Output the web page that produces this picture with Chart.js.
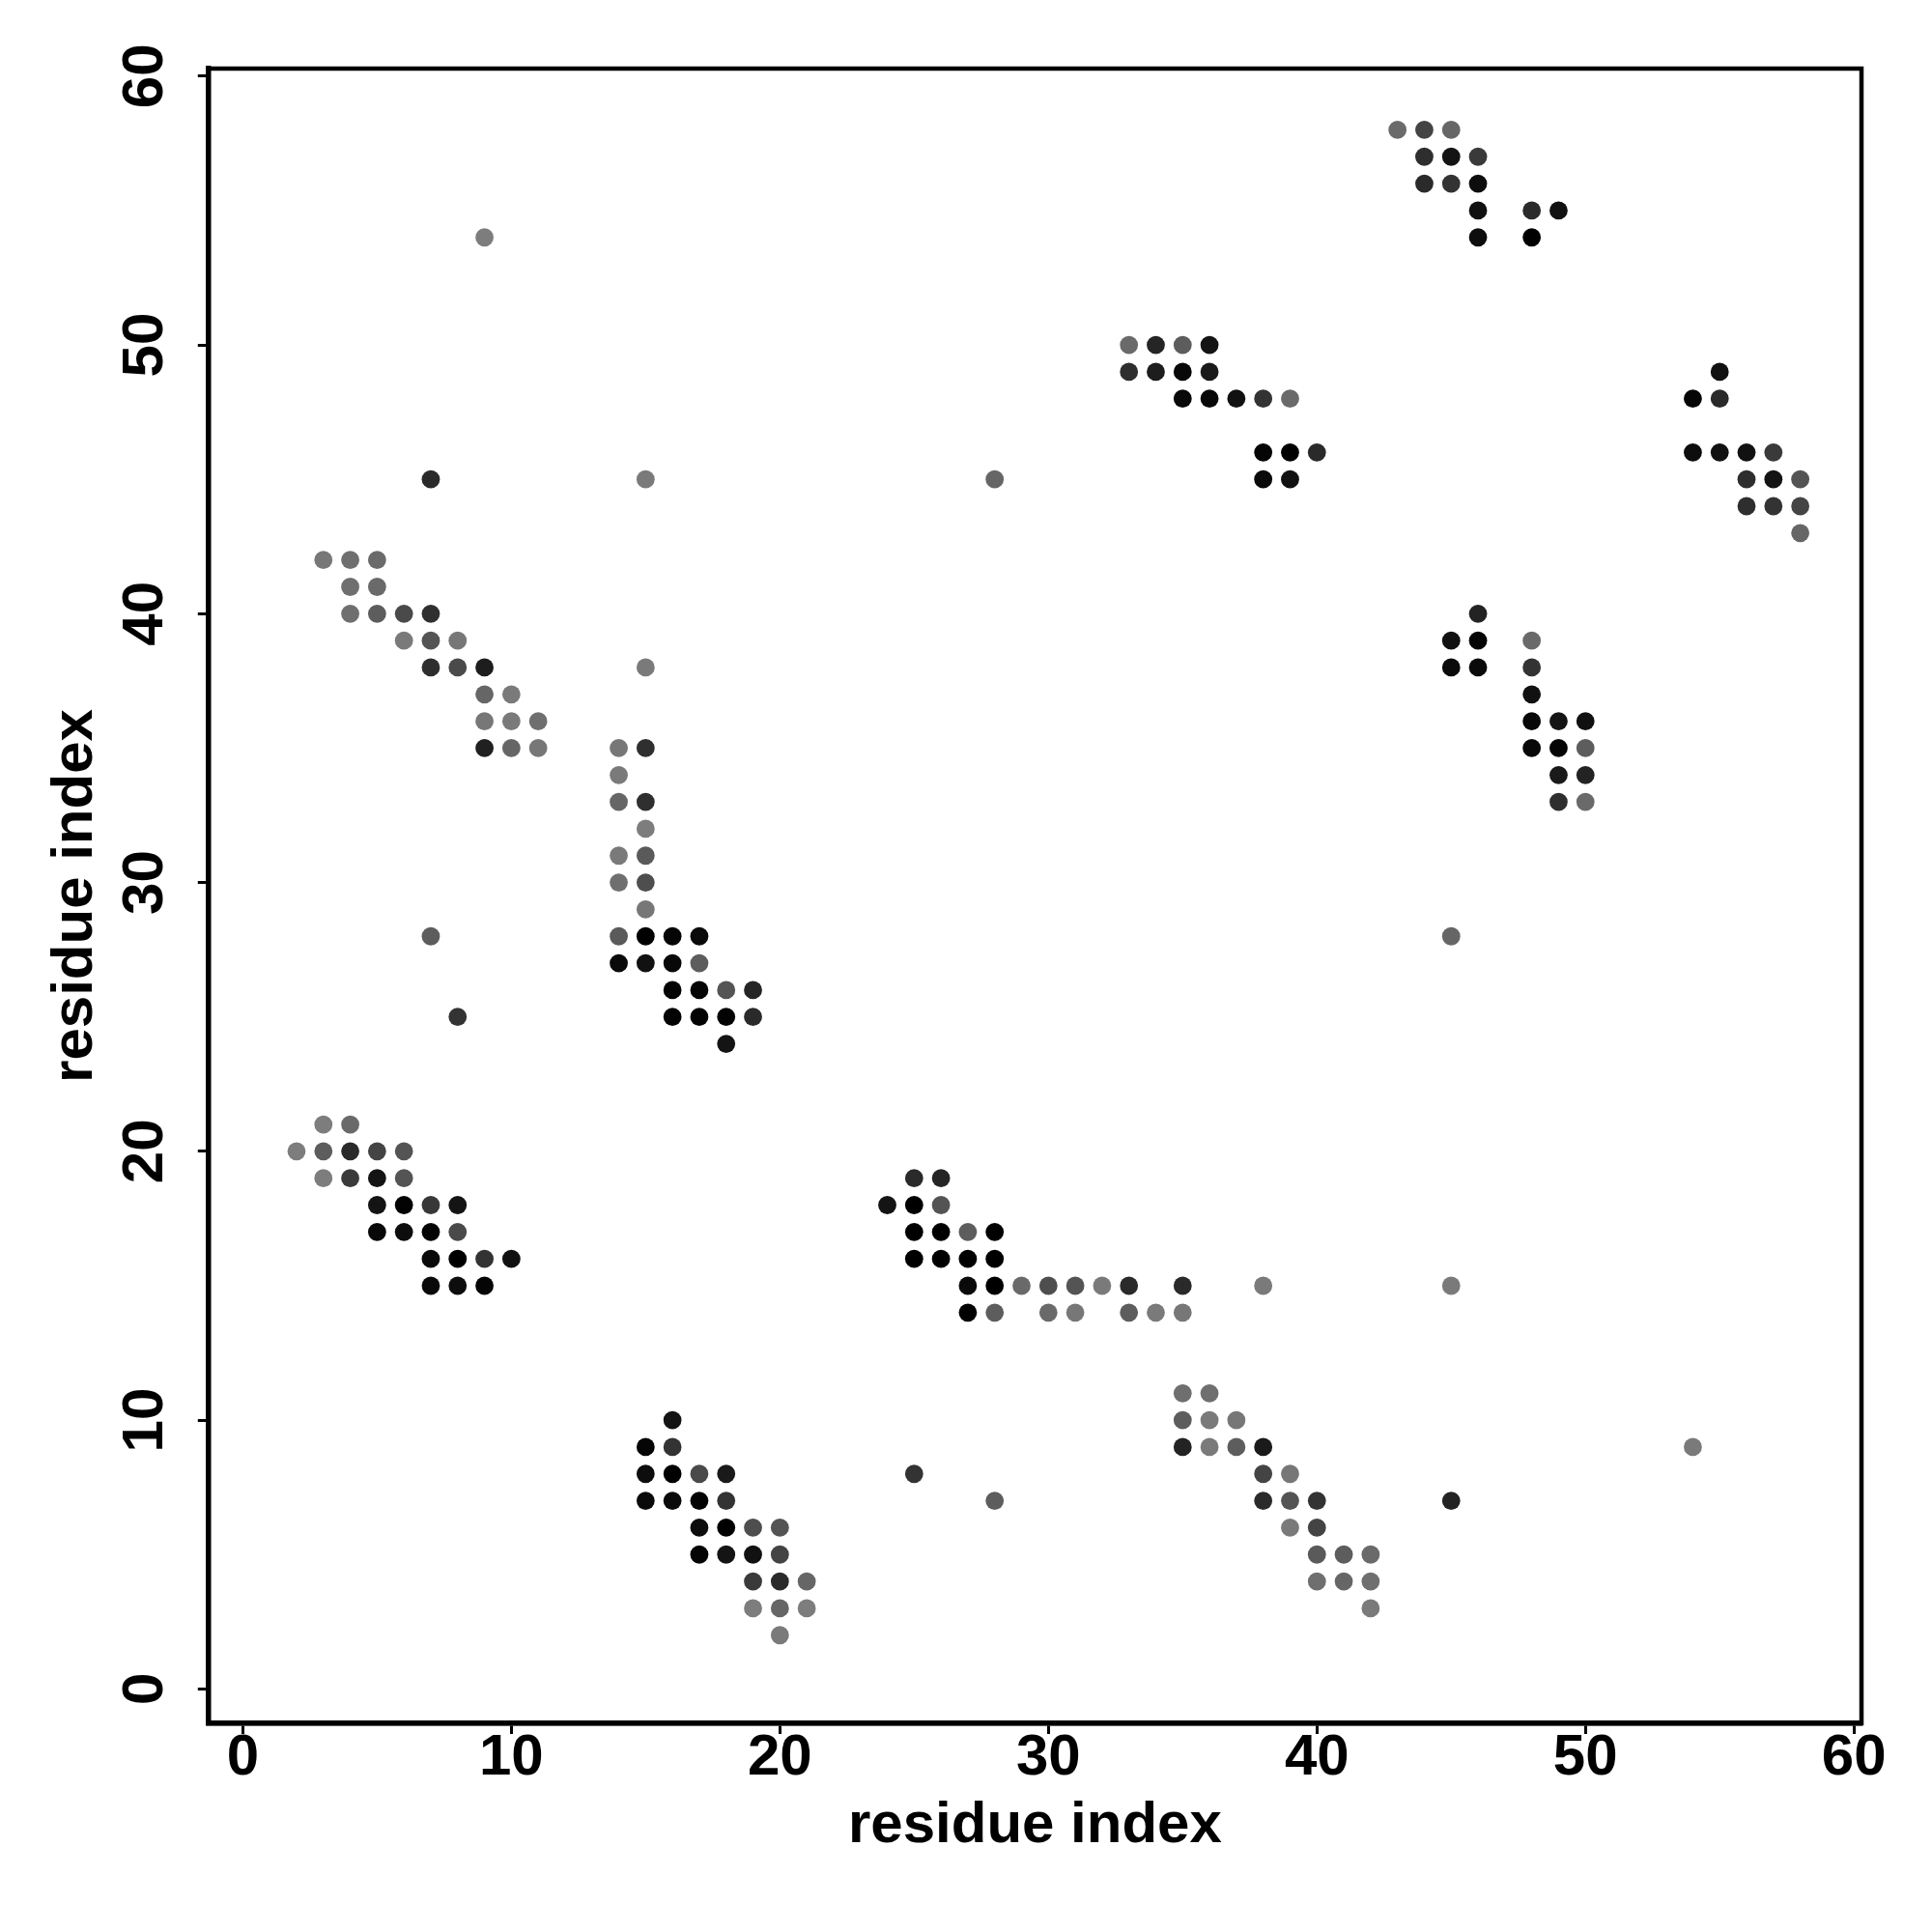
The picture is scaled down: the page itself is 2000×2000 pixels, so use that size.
<!DOCTYPE html>
<html>
<head>
<meta charset="utf-8">
<script src="https://cdn.jsdelivr.net/npm/chart.js@4/dist/chart.umd.min.js"></script>
<style>
  html, body { margin: 0; padding: 0; background: #fff; }
  #wrap { width: 2000px; height: 2000px; }
</style>
</head>
<body>
<div id="wrap"><canvas id="contactMap" width="2000" height="2000"></canvas></div>
<script>
// contact map rows: residue index (y) -> contacting residues (x) and contact probability
const rowY = [58, 57, 56, 55, 54, 50, 49, 48, 46, 45, 44, 43, 42, 41, 40, 39, 38, 37, 36, 35,
              34, 33, 32, 31, 30, 29, 28, 27, 26, 25, 24, 21, 20, 19, 18, 17, 16, 15, 14, 11,
              10, 9, 8, 7, 6, 5, 4, 3, 2];
const rowX = [
  [43, 44, 45], [44, 45, 46], [44, 45, 46], [46, 48, 49], [9, 46, 48],
  [33, 34, 35, 36], [33, 34, 35, 36, 55], [35, 36, 37, 38, 39, 54, 55],
  [38, 39, 40, 54, 55, 56, 57], [7, 15, 28, 38, 39, 56, 57, 58], [56, 57, 58], [58],
  [3, 4, 5], [4, 5], [4, 5, 6, 7, 46], [6, 7, 8, 45, 46, 48], [7, 8, 9, 15, 45, 46, 48],
  [9, 10, 48], [9, 10, 11, 48, 49, 50], [9, 10, 11, 14, 15, 48, 49, 50], [14, 49, 50],
  [14, 15, 49, 50], [15], [14, 15], [14, 15], [15], [7, 14, 15, 16, 17, 45],
  [14, 15, 16, 17], [16, 17, 18, 19], [8, 16, 17, 18, 19], [18], [3, 4], [2, 3, 4, 5, 6],
  [3, 4, 5, 6, 25, 26], [5, 6, 7, 8, 24, 25, 26], [5, 6, 7, 8, 25, 26, 27, 28],
  [7, 8, 9, 10, 25, 26, 27, 28], [7, 8, 9, 27, 28, 29, 30, 31, 32, 33, 35, 38, 45],
  [27, 28, 30, 31, 33, 34, 35], [35, 36], [16, 35, 36, 37], [15, 16, 35, 36, 37, 38, 54],
  [15, 16, 17, 18, 25, 38, 39], [15, 16, 17, 18, 28, 38, 39, 40, 45], [17, 18, 19, 20, 39, 40],
  [17, 18, 19, 20, 40, 41, 42], [19, 20, 21, 40, 41, 42], [19, 20, 21, 42], [20]
];
const rowProb = [
  [.17, .47, .20], [.64, .84, .55], [.67, .60, .90], [.87, .67, .87], [.02, .90, 1],
  [.17, .71, .27, .84], [.64, .77, .94, .80, .87], [.94, .94, .87, .60, .17, .96, .67],
  [.96, 1, .67, .90, .87, .87, .55], [.67, .05, .20, .92, .87, .64, .84, .34], [.64, .60, .47], [.20],
  [.07, .13, .17], [.13, .17], [.13, .27, .42, .63, .73], [.05, .34, .07, .87, .96, .17],
  [.64, .42, .77, .05, .92, .92, .60],
  [.20, .05, .87], [.07, .05, .13, .94, .84, .87], [.75, .20, .07, .07, .63, .94, .96, .27], [.05, .80, .73],
  [.20, .63, .64, .17], [.02], [.05, .30], [.13, .39], [.07], [.27, .30, 1, .96, .92, .20],
  [.92, .87, .94, .27], [.98, .96, .34, .71], [.60, .98, .98, .98, .67], [.84], [.02, .17], [.02, .27, .67, .47, .34],
  [.02, .55, .84, .34, .67, .71], [.84, .98, .56, .84, .84, 1, .34], [.94, .90, .98, .42, 1, 1, .27, 1],
  [.92, 1, .60, .87, 1, 1, 1, 1], [.92, .90, .96, .92, 1, .17, .39, .34, .05, .67, .67, .05, .05],
  [1, .27, .17, .07, .27, .05, .07], [.13, .13], [.84, .27, .05, .07], [.96, .60, .73, .05, .27, .80, .05],
  [.90, 1, .42, .80, .60, .47, .07], [.92, .92, .98, .60, .27, .67, .34, .60, .73], [.90, 1, .39, .34, .05, .47],
  [.96, .84, .87, .47, .30, .27, .17], [.55, .67, .20, .13, .20, .13], [.02, .20, .02, .05], [.05]
];

const xTicks = [0, 10, 20, 30, 40, 50, 60];
const yTicks = [0, 10, 20, 30, 40, 50, 60];
const axisMin = -1.28;
const axisMax = 60.28;
const axisTitle = 'residue index';

// flatten rows into scatter points
const points = [];
rowY.forEach((y, r) => {
    rowX[r].forEach((x, k) => points.push({ x: x, y: y, p: rowProb[r][k] }));
});

// higher probability -> darker grey
function greyOf(p) {
    const v = Math.round(128 * (1 - p));
    return 'rgb(' + v + ',' + v + ',' + v + ')';
}

const FONT = 'Liberation Sans, Arial, Helvetica, sans-serif';

// frame around the plot region
const boxPlugin = {
    id: 'box',
    afterDraw(chart) {
        const { ctx, chartArea: a } = chart;
        ctx.save();
        ctx.strokeStyle = '#000';
        ctx.lineWidth = 4.5;
        ctx.strokeRect(a.left, a.top, a.right - a.left, a.bottom - a.top);
        ctx.restore();
    }
};

function initChart() {
    const ctx = document.getElementById('contactMap').getContext('2d');
    new Chart(ctx, {
        type: 'scatter',
        data: {
            datasets: [{
                data: points,
                pointRadius: 9.4,
                pointHoverRadius: 9.4,
                pointBorderWidth: 0,
                pointBackgroundColor: points.map(pt => greyOf(pt.p))
            }]
        },
        options: {
            responsive: false,
            animation: false,
            devicePixelRatio: 1,
            layout: { padding: { left: 0, right: 73, top: 71, bottom: 0 } },
            plugins: { legend: { display: false }, tooltip: { enabled: false } },
            scales: {
                x: {
                    type: 'linear',
                    min: axisMin,
                    max: axisMax,
                    afterBuildTicks: scale => { scale.ticks = xTicks.map(v => ({ value: v })); },
                    grid: { drawOnChartArea: false, drawTicks: true, tickLength: 11, tickWidth: 3, tickColor: '#000' },
                    border: { display: true, color: '#000', width: 5.5 },
                    ticks: {
                        autoSkip: false,
                        maxRotation: 0,
                        padding: -5,
                        color: '#000',
                        font: { family: FONT, size: 60, weight: 'bold', lineHeight: 1 }
                    },
                    title: {
                        display: true,
                        text: axisTitle,
                        color: '#000',
                        padding: { top: 15, bottom: 80 },
                        font: { family: FONT, size: 60, weight: 'bold', lineHeight: 1 }
                    }
                },
                y: {
                    type: 'linear',
                    min: axisMin,
                    max: axisMax,
                    afterBuildTicks: scale => { scale.ticks = yTicks.map(v => ({ value: v })); },
                    grid: { drawOnChartArea: false, drawTicks: true, tickLength: 11, tickWidth: 3, tickColor: '#000' },
                    border: { display: true, color: '#000', width: 5.5 },
                    ticks: {
                        autoSkip: false,
                        minRotation: 90,
                        maxRotation: 90,
                        crossAlign: 'center',
                        padding: 20.4,
                        color: '#000',
                        font: { family: FONT, size: 60, weight: 'bold', lineHeight: 1 }
                    },
                    title: {
                        display: true,
                        text: axisTitle,
                        color: '#000',
                        padding: { top: 54, bottom: 2 },
                        font: { family: FONT, size: 60, weight: 'bold', lineHeight: 0.8 }
                    }
                }
            }
        },
        plugins: [boxPlugin]
    });
}

document.addEventListener('DOMContentLoaded', () => {
    initChart();
});
</script>
</body>
</html>
